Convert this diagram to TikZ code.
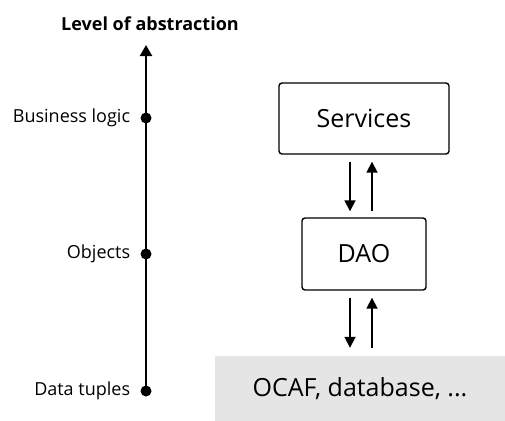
\documentclass[tikz,border=0pt]{standalone}
\usepackage{fontspec}
\setmainfont{Open Sans}
\usetikzlibrary{arrows.meta, positioning}

\tikzset{
    layer/.style={draw, line width=1.4pt, rounded corners=3pt, inner sep=0pt, font=\fontsize{25}{28}\selectfont},
    dot/.style={circle, fill=black, inner sep=0pt, minimum size=11pt},
    level/.style={inner sep=0pt, font=\fontsize{18}{20}\selectfont},
    flow/.style={-{Triangle[length=11pt, width=11pt]}, line width=1.8pt}
}

\begin{document}
\begin{tikzpicture}[x=1pt, y=-1pt]
    \useasboundingbox (0,0) rectangle (505,420);

    % Axis
    \node[font=\fontsize{18}{20}\selectfont\bfseries] (title) at (150,24) {Level of abstraction};
    \coordinate (top) at (146,45);
    \node[dot] (logic) at (146,118) {};
    \node[dot] (objects) at (146,254) {};
    \node[dot] (tuples) at (146,391) {};
    \draw[-{Triangle[length=11pt, width=12pt]}, line width=2.2pt] (tuples.center) -- (top);

    \node[level, left=10pt of logic] (logiclabel) {Business logic};
    \node[level, left=10pt of objects] (objectslabel) {Objects};
    \node[level, left=10pt of tuples] (tupleslabel) {Data tuples};

    % Layers
    \node[layer, minimum width=170pt, minimum height=71pt] (services) at (364,118.5) {Services};
    \node[layer, minimum width=124pt, minimum height=72pt] (dao) at (364,254) {DAO};
    \node[fill=gray!20, inner sep=0pt, minimum width=290pt, minimum height=66pt, font=\fontsize{25}{28}\selectfont] (store) at (360,389) {OCAF, database, ...};

    % Calls
    \draw[flow, shorten <=7pt, shorten >=6pt] ([xshift=-14pt]services.south) -- ([xshift=-14pt]dao.north);
    \draw[flow, shorten <=6pt, shorten >=7pt] ([xshift=8pt]dao.north) -- ([xshift=8pt]services.south);
    \draw[flow, shorten <=7pt, shorten >=8pt] ([xshift=-14pt]dao.south) -- ([xshift=-14pt]dao.south |- store.north);
    \draw[flow, shorten <=8pt, shorten >=7pt] ([xshift=8pt]dao.south |- store.north) -- ([xshift=8pt]dao.south);
\end{tikzpicture}
\end{document}
